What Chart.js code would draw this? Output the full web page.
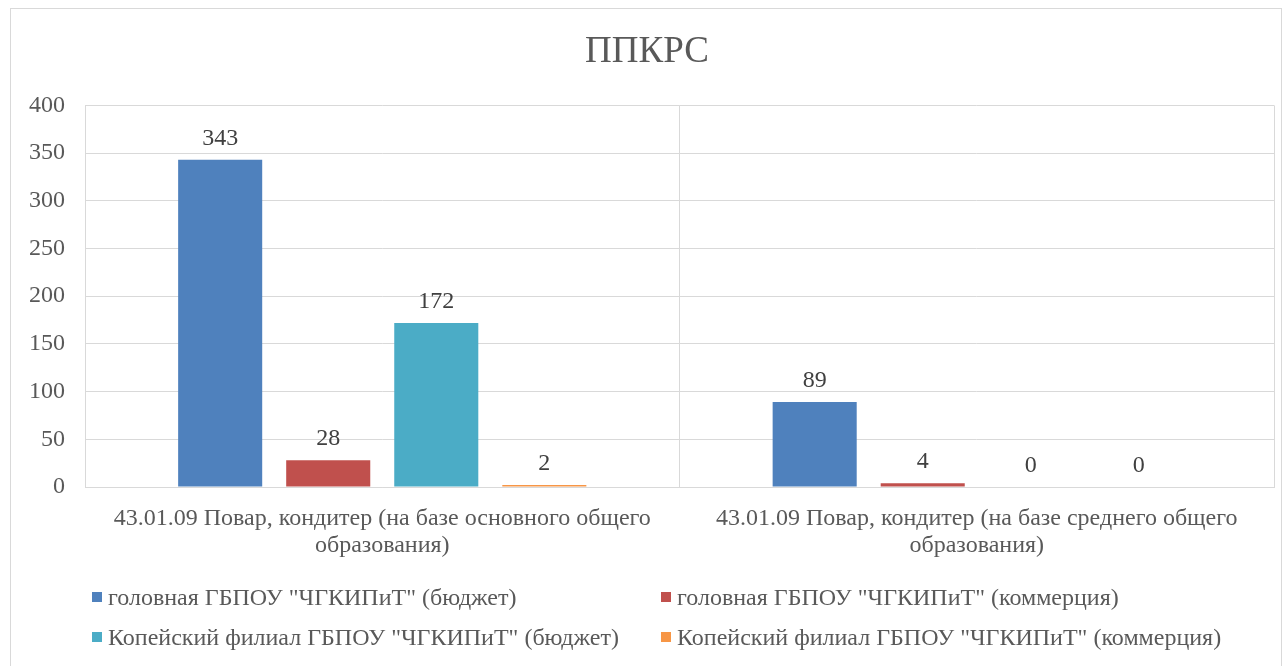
<!DOCTYPE html>
<html>
<head>
<meta charset="utf-8">
<script src="https://cdn.jsdelivr.net/npm/chart.js@4"></script>
<style>
  html, body { margin: 0; padding: 0; background: #fff; }
  body { width: 1286px; height: 666px; position: relative; overflow: hidden; }
  #frame { position: absolute; left: 10px; top: 8px; width: 1272px; height: 680px; border: 1px solid #d9d9d9; box-sizing: border-box; }
  #wrap { position: absolute; left: 0; top: 0; width: 1286px; height: 666px; }
  #legend { position: absolute; left: 0; top: 0; font: 24px "Liberation Serif", "Times New Roman", serif; color: #595959; }
  .lg-item { position: absolute; white-space: nowrap; display: flex; align-items: center; height: 28px; }
  .lg-box { width: 10px; height: 10px; margin-right: 6px; }
</style>
</head>
<body>
<div id="frame"></div>
<div id="wrap"><canvas id="chart" width="1286" height="666"></canvas></div>
<div id="legend"></div>
<script>
// ─── Data ───
const TITLE = 'ППКРС';
const CATEGORIES = [
  ['43.01.09 Повар, кондитер (на базе основного общего', 'образования)'],
  ['43.01.09 Повар, кондитер (на базе среднего общего', 'образования)'],
];
const SERIES_NAMES = [
  'головная ГБПОУ "ЧГКИПиТ" (бюджет)',
  'головная ГБПОУ "ЧГКИПиТ" (коммерция)',
  'Копейский филиал ГБПОУ "ЧГКИПиТ" (бюджет)',
  'Копейский филиал ГБПОУ "ЧГКИПиТ" (коммерция)',
];
const HEAD_BUDGET      = [343, 89];
const HEAD_COMMERCE    = [28, 4];
const KOPEYSK_BUDGET   = [172, 0];
const KOPEYSK_COMMERCE = [2, 0];
const Y_TICKS = [0, 50, 100, 150, 200, 250, 300, 350, 400];

const COLORS = ['#4F81BD', '#C0504D', '#4BACC6', '#F79646'];
const FONT = '"Liberation Serif", "Times New Roman", serif';

const seriesData = [HEAD_BUDGET, HEAD_COMMERCE, KOPEYSK_BUDGET, KOPEYSK_COMMERCE];

// ─── Value labels above bars ───
const valueLabels = {
  id: 'valueLabels',
  afterDatasetsDraw(chart) {
    const ctx = chart.ctx;
    ctx.save();
    ctx.font = `24px ${FONT}`;
    ctx.fillStyle = '#404040';
    ctx.textAlign = 'center';
    ctx.textBaseline = 'alphabetic';
    chart.data.datasets.forEach((ds, i) => {
      chart.getDatasetMeta(i).data.forEach((bar, j) => {
        ctx.fillText(String(ds.data[j]), bar.x, bar.y - 15);
      });
    });
    ctx.restore();
  }
};

const chart = new Chart(document.getElementById('chart').getContext('2d'), {
  type: 'bar',
  data: {
    labels: CATEGORIES,
    datasets: seriesData.map((d, i) => ({
      label: SERIES_NAMES[i],
      data: d,
      backgroundColor: COLORS[i],
      borderWidth: 0,
      categoryPercentage: 0.727,
      barPercentage: 0.778,
    })),
  },
  options: {
    responsive: false,
    animation: false,
    layout: { padding: { left: 20, right: 12, top: 0, bottom: 89 } },
    plugins: {
      legend: { display: false },
      tooltip: { enabled: false },
      title: {
        display: true,
        text: TITLE,
        color: '#595959',
        font: { family: FONT, size: 37, weight: 'normal' },
        padding: { top: 30, bottom: 31 },
      },
    },
    scales: {
      x: {
        offset: true,
        grid: { offset: true, color: '#d9d9d9', drawTicks: false },
        border: { color: '#d9d9d9' },
        ticks: { color: '#595959', font: { family: FONT, size: 24, lineHeight: 1.125 }, padding: 18, maxRotation: 0 },
      },
      y: {
        min: 0, max: 400,
        afterBuildTicks: s => { s.ticks = Y_TICKS.map(v => ({ value: v })); },
        afterFit: s => { s.width = 65; },
        grid: { color: '#d9d9d9', drawTicks: false },
        border: { display: false },
        ticks: { color: '#595959', font: { family: FONT, size: 24 }, padding: 20 },
      },
    },
  },
  plugins: [valueLabels],
});

// ─── Legend (2 columns) ───
const legendPos = [[92, 597], [661, 597], [92, 637], [661, 637]];
const lg = document.getElementById('legend');
chart.data.datasets.forEach((ds, i) => {
  const el = document.createElement('div');
  el.className = 'lg-item';
  el.style.left = legendPos[i][0] + 'px';
  el.style.top = (legendPos[i][1] - 14) + 'px';
  el.innerHTML = `<span class="lg-box" style="background:${ds.backgroundColor}"></span><span>${ds.label}</span>`;
  lg.appendChild(el);
});
</script>
</body>
</html>
